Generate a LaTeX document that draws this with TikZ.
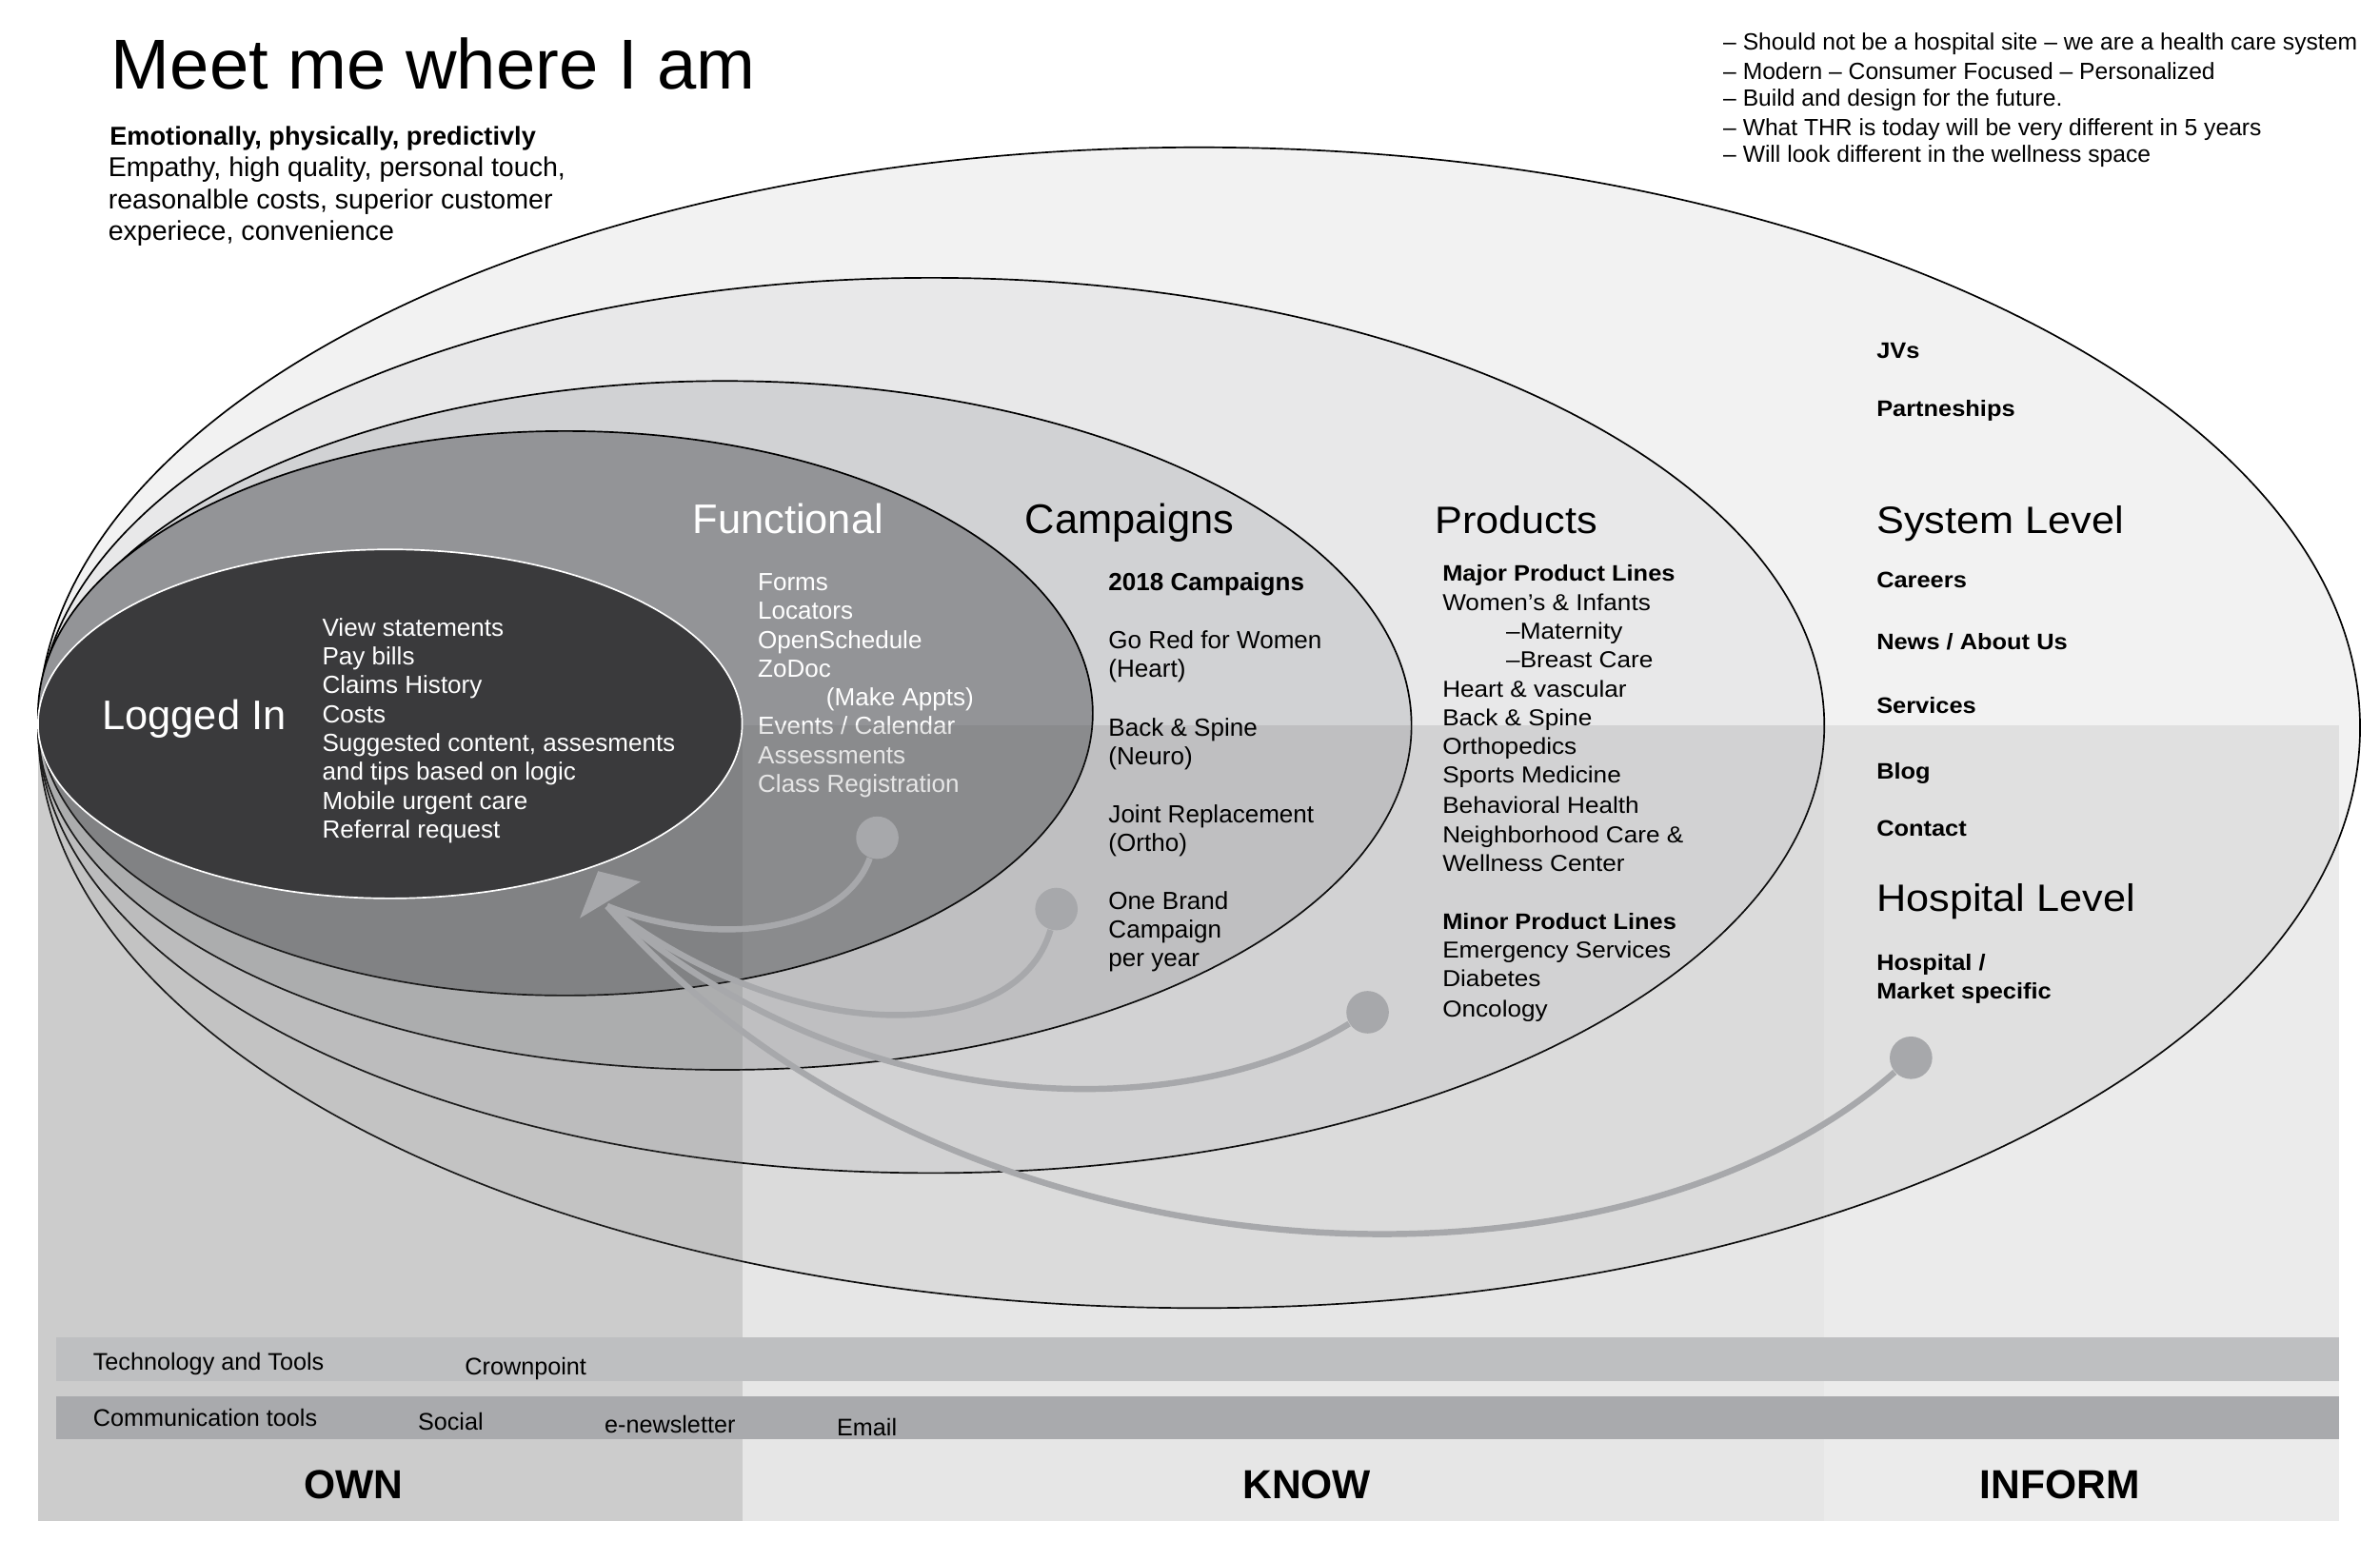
\documentclass[tikz,border=0pt]{standalone}
\usepackage{fontspec}
\setmainfont{Liberation Sans}
\newfontfamily\widefont[FakeStretch=1.08]{Liberation Sans}
\usetikzlibrary{arrows.meta, positioning, calc}

\newcommand{\fsz}[2]{\fontsize{#1}{#2}\selectfont}

\definecolor{sysfill}{HTML}{F2F2F2}
\definecolor{prodfill}{HTML}{E8E8E9}
\definecolor{campfill}{HTML}{D1D2D4}
\definecolor{funcfill}{HTML}{939497}
\definecolor{logfill}{HTML}{3A3A3C}
\definecolor{veil}{gray}{0.36}
\definecolor{linkgray}{HTML}{A7A8AB}
\definecolor{techbar}{HTML}{BEBFC1}
\definecolor{commbar}{HTML}{A9AAAD}

\begin{document}
\begin{tikzpicture}[
  x=0.02cm, y=-0.02cm,
  every node/.style={inner sep=0pt},
  ring/.style={draw=black, line width=0.6pt},
  lbl/.style={anchor=mid west, yshift=-0.03cm, font=\fsz{9.3}{11}},
  bigl/.style={anchor=mid west, yshift=-0.1cm, font=\fsz{15.5}{18}},
  wlbl/.style={anchor=mid west, yshift=-0.03cm, font=\widefont\fsz{8.65}{11}},
  wbold/.style={anchor=mid west, yshift=-0.03cm, font=\widefont\fsz{8.4}{11}\bfseries},
  wbig/.style={anchor=mid west, yshift=-0.1cm, font=\widefont\fsz{14.3}{17}},
  tool/.style={anchor=mid west, yshift=-0.03cm, font=\fsz{9}{11}},
  colhead/.style={font=\fsz{15.2}{18}\bfseries},
  link/.style={draw=linkgray, line width=2.3pt},
  dot/.style={circle, fill=linkgray, minimum size=0.56cm},
]

% ── Canvas ───────────────────────────────────────────────────────────────────
\useasboundingbox (0,0) rectangle (1568,1015);
\fill[white] (0,0) rectangle (1568,1015);

% ── Nested rings, outermost first (all touch the left edge) ─────────────────
\filldraw[ring, fill=sysfill]  (790,479.5) ellipse [x radius=15.30cm, y radius=7.65cm];
\filldraw[ring, fill=prodfill] (613.5,478) ellipse [x radius=11.77cm, y radius=5.90cm];
\filldraw[ring, fill=campfill] (477.5,478) ellipse [x radius=9.05cm, y radius=4.54cm];
\filldraw[ring, fill=funcfill] (372.5,470) ellipse [x radius=6.95cm, y radius=3.72cm];

% Functional text sits under the column shading
\node[bigl, text=white] (func) at (456,342) {Functional};
\foreach \x/\y/\t [count=\i] in {499/383/Forms, 499/402/Locators,
    499/421/OpenSchedule, 499/440/ZoDoc, 544/459/(Make Appts),
    499/478/{Events / Calendar}, 499/497/Assessments, 499/516/Class Registration}
  \node[lbl, text=white] (fn\i) at (\x,\y) {\t};

% ── Column shading (lower half) ──────────────────────────────────────────────
\fill[veil, fill opacity=0.31]  (25,478) rectangle (489,1002);
\fill[veil, fill opacity=0.153] (489,478) rectangle (1202,1002);
\fill[veil, fill opacity=0.117] (1202,478) rectangle (1541,1002);

% ── Logged In core ───────────────────────────────────────────────────────────
\filldraw[draw=white, line width=0.6pt, fill=logfill]
  (257,477) ellipse [x radius=4.64cm, y radius=2.30cm];
\node[bigl, text=white] (login) at (67,471) {Logged In};
\foreach \t [count=\i from 0] in {View statements, Pay bills, Claims History,
    Costs, {Suggested content, assesments}, and tips based on logic,
    Mobile urgent care, Referral request}
  \node[lbl, text=white] (log\i) at (212, 413+19*\i) {\t};

% ── Campaigns ────────────────────────────────────────────────────────────────
\node[bigl] (camp) at (675,342) {Campaigns};
\node[lbl, font=\fsz{9.3}{11}\bfseries] (camp0) at (730,383) {2018 Campaigns};
\foreach \y/\t [count=\i] in {421/Go Red for Women, 440/(Heart),
    479/Back \& Spine, 498/(Neuro), 536/Joint Replacement, 555/(Ortho),
    593/One Brand, 612/Campaign, 631/per year}
  \node[lbl] (camp\i) at (730,\y) {\t};

% ── Products ─────────────────────────────────────────────────────────────────
\node[wbig] (prod) at (945,342) {Products};
\node[wbold] (major) at (950,377) {Major Product Lines};
\foreach \x/\y/\t [count=\i] in {950/396/Women’s \& Infants, 992/415/–Maternity,
    992/434/–Breast Care, 950/453/Heart \& vascular, 950/472/Back \& Spine,
    950/491/Orthopedics, 950/510/Sports Medicine, 950/530/Behavioral Health,
    950/549/Neighborhood Care \&, 950/568/Wellness Center}
  \node[wlbl] (prod\i) at (\x,\y) {\t};
\node[wbold] (minor) at (950,606) {Minor Product Lines};
\foreach \y/\t [count=\i] in {625/Emergency Services, 644/Diabetes, 664/Oncology}
  \node[wlbl] (minor\i) at (950,\y) {\t};

% ── System / Hospital level ──────────────────────────────────────────────────
\node[wbold] (jv) at (1236,230) {JVs};
\node[wbold] (partner) at (1236,268) {Partneships};
\node[wbig] (syslvl) at (1236,342) {System Level};
\foreach \y/\t [count=\i] in {381/Careers, 422/{News / About Us}, 464/Services,
    507/Blog, 545/Contact}
  \node[wbold] (sys\i) at (1236,\y) {\t};
\node[wbig] (hosplvl) at (1236,591) {Hospital Level};
\node[wbold] (hosp1) at (1236,633) {Hospital /};
\node[wbold] (hosp2) at (1236,652) {Market specific};

% ── Links back into Logged In ────────────────────────────────────────────────
\coordinate (tip) at (400,597);
\node[dot] (dfunc) at (578,552) {};
\node[dot] (dcamp) at (696,599) {};
\node[dot] (dprod) at (901,667) {};
\node[dot] (dhosp) at (1259,697) {};

\draw[link] (dfunc) .. controls (555,615) and (470,625) .. (tip);
\draw[link] (dcamp) .. controls (670,690) and (520,690) .. (tip);
\draw[link] (dprod) .. controls (780,742) and (560,740) .. (tip);
\draw[link] (dhosp) .. controls (1060,872) and (620,852) .. (tip);
\fill[linkgray] ($(tip)+(-6,-23)$) -- ($(tip)+(22,-16)$) -- ($(tip)+(-18,8)$) -- cycle;

% ── Header texts ─────────────────────────────────────────────────────────────
\node[anchor=base west, font=\fsz{26.5}{30}] (title) at (73,58.5) {Meet me where I am};
\node[lbl, font=\fsz{9.7}{12}\bfseries] (emo) at (72,89.5) {Emotionally, physically, predictivly};
\foreach \y/\t [count=\i] in {110.5/{Empathy, high quality, personal touch,},
    131.5/{reasonalble costs, superior customer}, 152.5/{experiece, convenience}}
  \node[lbl, font=\fsz{10.2}{12}] (emo\i) at (71,\y) {\t};

\foreach \y/\t [count=\i] in {27/{– Should not be a hospital site – we are a health care system},
    46/{– Modern – Consumer Focused – Personalized},
    64/{– Build and design for the future.},
    83/{– What THR is today will be very different in 5 years},
    101/{– Will look different in the wellness space}}
  \node[lbl, font=\fsz{8.8}{10.5}] (note\i) at (1135,\y) {\t};

% ── Tool bars ────────────────────────────────────────────────────────────────
\fill[techbar] (37,881) rectangle (1541,910);
\fill[commbar] (37,920) rectangle (1541,948);
\node[tool] (tech)  at (61,897)  {Technology and Tools};
\node[tool] (crown) at (306,900) {Crownpoint};
\node[tool] (comm)  at (61,934)  {Communication tools};
\node[tool] (soc)   at (275,936) {Social};
\node[tool] (news)  at (398,938) {e-newsletter};
\node[tool] (mail)  at (551,940) {Email};

% ── Column labels ────────────────────────────────────────────────────────────
\node[colhead] (own)    at (233,978)  {OWN};
\node[colhead] (know)   at (861,978)  {KNOW};
\node[colhead] (inform) at (1357,978) {INFORM};

\end{tikzpicture}
\end{document}
